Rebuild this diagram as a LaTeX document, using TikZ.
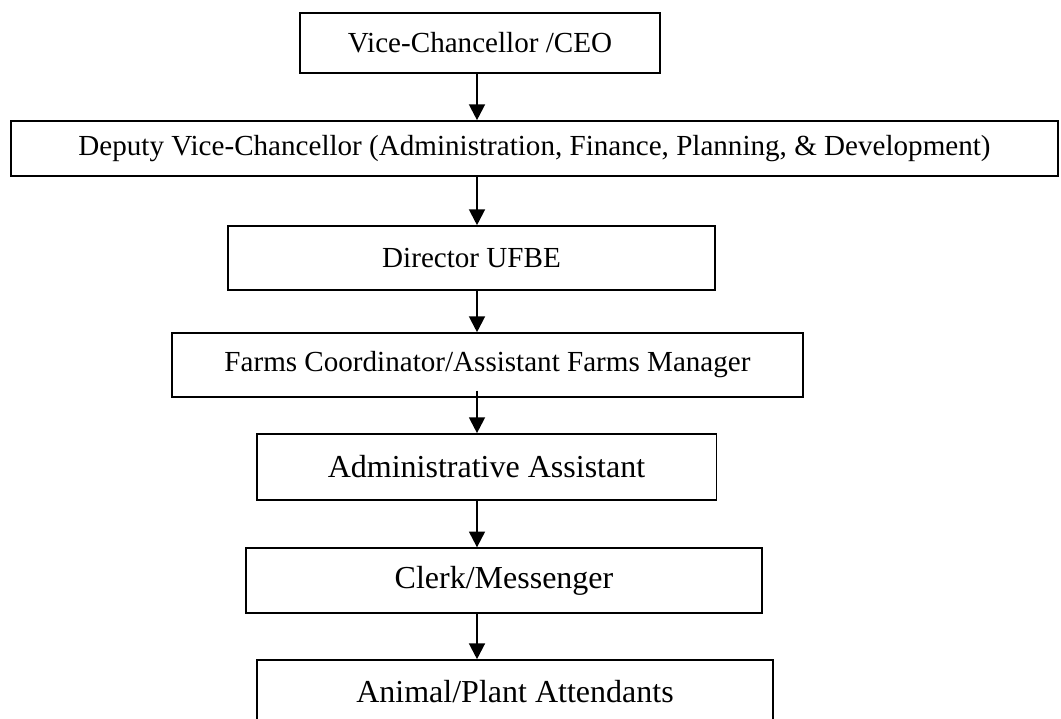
\documentclass[tikz,border=0pt]{standalone}
\usepackage{fontspec}
\setmainfont{Liberation Serif}
\usetikzlibrary{arrows.meta}
\begin{document}
\begin{tikzpicture}[x=0.0145cm,y=-0.0145cm,
    office/.style ={rectangle, draw, line width=0.6pt, inner sep=0pt, font=\fontsize{12}{14}\selectfont},
    bigoffice/.style ={office, font=\fontsize{13.2}{15}\selectfont},
    link/.style ={line width=0.9pt, -{Triangle[width=6.5pt,length=6.5pt]}}]
   \useasboundingbox (0,0) rectangle (1061,719);
   \coordinate (spine) at (477,0);

   \node[office,minimum width=5.22cm,minimum height=0.87cm] (vc)  at (480,43) {Vice-Chancellor /CEO};
   \node[office,minimum width=15.18cm,minimum height=0.80cm] (dvc) at (534.5,148.5) {Deputy Vice-Chancellor (Administration, Finance, Planning, \& Development)};
   \node[office,minimum width=7.06cm,minimum height=0.93cm] (dir) at (471.5,258) {Director UFBE};
   \node[office,minimum width=9.15cm,minimum height=0.93cm] (farms) at (487.5,365) {Farms Coordinator/Assistant Farms Manager};
   \node[bigoffice,minimum width=6.66cm,minimum height=0.96cm] (admin) at (486.5,467) {Administrative Assistant};
   \node[bigoffice,minimum width=7.48cm,minimum height=0.94cm] (clerk) at (504,580.5) {Clerk/Messenger};
   \node[bigoffice,minimum width=7.48cm,minimum height=0.93cm] (attend) at (515,692) {Animal/Plant Attendants};

   \draw[link] (vc.south -| spine) to (dvc.north -| spine);
   \draw[link] (dvc.south -| spine) to (dir.north -| spine);
   \draw[link] (dir.south -| spine) to (farms.north -| spine);
   \draw[link] ([yshift=3pt]farms.south -| spine) to (admin.north -| spine);
   \draw[link] (admin.south -| spine) to (clerk.north -| spine);
   \draw[link] (clerk.south -| spine) to (attend.north -| spine);
\end{tikzpicture}
\end{document}
